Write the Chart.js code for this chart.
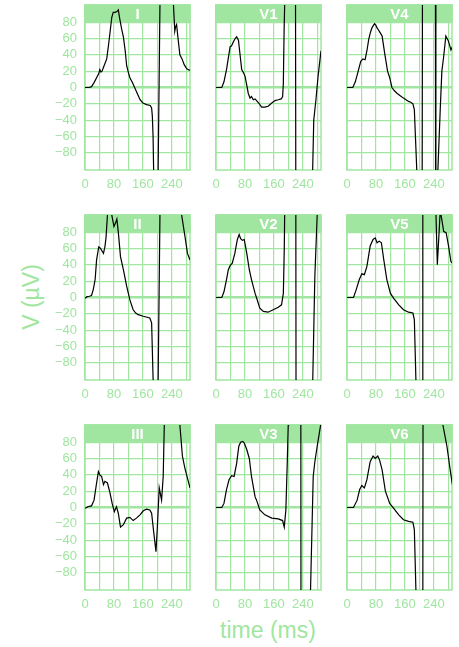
<!DOCTYPE html>
<html>
<head>
<meta charset="utf-8">
<script src="https://cdn.jsdelivr.net/npm/chart.js@4.4.1/dist/chart.umd.min.js"></script>
<style>
  html, body { margin: 0; padding: 0; background: #fff; }
  body { width: 459px; height: 647px; position: relative; overflow: hidden; font-family: "Liberation Sans", Arial, sans-serif; }
  canvas { position: absolute; }
  .axis-title { position: absolute; color: #a0e6a0; font-size: 23px; white-space: nowrap; transform: translate(-50%, -50%); }
  #ylab { transform: translate(-50%, -50%) rotate(-90deg); }
</style>
</head>
<body>
<div id="ylab" class="axis-title" style="left:31px; top:297px">V (µV)</div>
<div id="xlab" class="axis-title" style="left:268px; top:630px">time (ms)</div>
<script>
const GREEN = '#a0e6a0';

const leadNames = ['I', 'V1', 'V4', 'II', 'V2', 'V5', 'III', 'V3', 'V6'];
const xGrid = [0, 40, 80, 120, 160, 200, 240, 280];
const xLabels = [0, 80, 160, 240];
const yGrid = [-80, -60, -40, -20, 0, 20, 40, 60, 80];
const T_MAX = 290;
const V_MIN = -101, V_MAX = 101;
const STRIP_FROM = 80; // strip covers the panel above this value

// [time ms, voltage µV] per lead (off-panel parts estimated)
const leadI = [[0,0],[12,0],[18,1],[25,6],[32,12],[38,17],[41,22],[44,19],[47,20],[53,27],[60,35],[65,52],[69,67],[74,86],[78,92],[83,92],[88,93],[92,95],[96,84],[101,72],[106,62],[111,45],[115,27],[120,18],[124,12],[131,6],[138,-1],[145,-8],[152,-15],[160,-19],[170,-21],[180,-22],[184,-25],[186,-35],[188,-60],[191,-140],[196,-300],[200,-182],[210,222],[220,360],[232,300],[241,130],[248,69],[250,74],[253,77],[257,60],[262,40],[268,35],[274,28],[281,23],[290,21]];
const leadV1 = [[0,0],[16,0],[22,7],[29,22],[34,36],[39,50],[43,51],[48,56],[53,60],[57,62],[62,58],[66,42],[71,22],[76,18],[80,14],[85,3],[89,-7],[94,-13],[98,-11],[103,-15],[108,-14],[112,-16],[118,-19],[126,-24],[135,-24],[144,-23],[154,-19],[163,-16],[172,-15],[180,-14],[184,-11],[186,5],[188,67],[191,130],[200,400],[212,500],[219,300],[221,-300],[240,-500],[262,-300],[266,-120],[270,-40],[276,-15],[282,14],[290,45]];
const leadV4 = [[0,0],[16,0],[23,7],[32,22],[38,32],[44,35],[50,34],[55,45],[60,59],[65,68],[69,73],[73,76],[76,78],[80,76],[83,73],[86,71],[89,69],[93,66],[97,63],[104,42],[112,20],[118,12],[124,0],[131,-4],[138,-7],[147,-10],[156,-13],[163,-15],[170,-17],[176,-18],[182,-20],[186,-27],[189,-60],[194,-115],[200,-400],[207,-300],[209,300],[225,500],[243.5,400],[245.5,-400],[248,-135],[257.5,-27],[262,20],[267,38],[273,63],[280,57],[287,46],[291,50]];
const leadII = [[0,-1],[6,1],[12,1.5],[18,2.5],[23,10],[28,22],[32,46],[38,62],[43,60],[47,57],[51,54],[55,62],[58,73],[62,101],[66,118],[70,110],[80,87],[85,92],[88,96],[92,80],[98,50],[106,34],[115,14],[124,-3],[133,-15],[140,-19],[147,-21],[161,-23],[179,-25],[184,-31],[189,-115],[193,-300],[200,-182],[210,222],[230,400],[255,300],[262,115],[276,75],[283,54],[290,46]];
const leadV2 = [[0,0],[16,0],[22,7],[29,22],[34,34],[39,39],[45,42],[52,54],[59,71],[64,77],[68,72],[73,70],[78,71],[85,54],[92,34],[98,22],[108,5],[114,-3],[121,-13],[131,-17],[144,-18],[158,-15],[172,-12],[181,-9],[186,5],[188.5,58],[191,150],[200,450],[214,500],[220,300],[221.5,-300],[240,-500],[258,-300],[265,-150],[273,26],[279.5,101],[285,180],[290,250]];
const leadV5 = [[0,0],[18,0],[25,9],[34,22],[41,29],[48,28],[55,38],[64,63],[72,71],[78,73],[83,67],[89,69],[95,67],[101,48],[110,22],[120,5],[129,-1],[143,-9],[156,-15],[170,-18],[182,-19],[186,-27],[192,-130],[198,-400],[208,-300],[209.4,300],[225,500],[238,400],[244,130],[249.5,40],[257,102],[259,103],[262,95],[267,81],[274,79],[280.5,63],[287,44],[291,42]];
const leadIII = [[0,-1],[9,1],[18,2],[25,9],[32,30],[37,44],[41,40],[46,38],[51,28],[55,32],[62,30],[69,18],[75,5],[81,-5],[87,1],[92,-7],[98,-24],[106,-21],[115,-13],[124,-12],[133,-16],[142,-13],[152,-9],[161,-4],[170,-2],[179,-3],[184,-7],[190,-31],[196,-54],[199.5,-27],[205,24],[211.5,9],[216,38],[219,101],[221,160],[235,300],[250,250],[258,123],[269,63],[276,48],[283,36],[290,24]];
const leadV3 = [[0,0],[16,0],[22,5],[29,22],[36,34],[43,39],[50,38],[57,54],[63,75],[68,80],[74,81],[78,79],[85,71],[92,60],[98,38],[108,13],[112,9],[121,-3],[135,-9],[154,-13],[172,-14],[184,-16],[188.5,-24],[193,-3],[197,58],[199.5,101],[201,150],[215,400],[234,300],[235,-300],[250,-500],[259,-140],[268.5,38],[273,56],[279.5,75],[289,101],[291,107]];
const leadV6 = [[0,0],[18,0],[28,9],[35,22],[41,27],[48,24],[55,34],[64,56],[72,63],[78,60],[85,63],[90,58],[97,46],[106,20],[118,5],[129,-1],[143,-9],[156,-15],[170,-17],[182,-18],[186,-27],[192,-130],[199,-400],[209,-300],[210.4,300],[230,500],[250,400],[258,117],[276,75],[285,46],[291,28]];

const leadSeries = [leadI, leadV1, leadV4, leadII, leadV2, leadV5, leadIII, leadV3, leadV6];

// panel placement (plot area) in page pixels
const COL_X = [85, 216, 347];
const ROW_Y = [5, 215, 425];
const PANEL_W = 105, PANEL_H = 165;

const stripPlugin = {
    id: 'strip',
    beforeDatasetsDraw(chart, args, opts) {
        const { ctx, chartArea: a } = chart;
        const yb = chart.scales.y.getPixelForValue(STRIP_FROM);
        ctx.save();
        ctx.fillStyle = GREEN;
        ctx.fillRect(a.left - 0.75, a.top - 0.75, a.right - a.left + 1.5, yb - a.top + 0.75);
        ctx.strokeStyle = GREEN;
        ctx.lineWidth = 1.5;
        ctx.strokeRect(a.left, a.top, a.right - a.left, a.bottom - a.top);
        ctx.fillStyle = '#fff';
        ctx.font = 'bold 15px "Liberation Sans", Arial, sans-serif';
        ctx.textAlign = 'center';
        ctx.textBaseline = 'middle';
        ctx.fillText(opts.text, (a.left + a.right) / 2, (a.top + yb) / 2 + 1);
        ctx.restore();
    }
};

function minusSign(v) {
    return v < 0 ? '\u2212' + Math.abs(v) : String(v);
}

leadNames.forEach((name, i) => {
    const col = i % 3, row = Math.floor(i / 3);
    const ml = col === 0 ? 50 : 16, mt = 20, mr = 6, mb = 28;

    const cv = document.createElement('canvas');
    cv.width = ml + PANEL_W + mr;
    cv.height = mt + PANEL_H + mb;
    cv.style.left = (COL_X[col] - ml) + 'px';
    cv.style.top = (ROW_Y[row] - mt) + 'px';
    cv.style.width = cv.width + 'px';
    cv.style.height = cv.height + 'px';
    document.body.appendChild(cv);

    new Chart(cv, {
        type: 'line',
        data: {
            datasets: [{
                data: leadSeries[i].map(p => ({ x: p[0], y: p[1] })),
                borderColor: '#000',
                borderWidth: 1.2,
                pointRadius: 0,
                tension: 0,
                fill: false,
                clip: 0
            }]
        },
        plugins: [stripPlugin],
        options: {
            responsive: false,
            devicePixelRatio: 1,
            animation: false,
            events: [],
            layout: { padding: { left: 0, top: mt, right: mr, bottom: 0 } },
            scales: {
                x: {
                    type: 'linear',
                    min: 0,
                    max: T_MAX,
                    bounds: 'data',
                    afterBuildTicks: s => { s.ticks = xGrid.map(v => ({ value: v })); },
                    afterFit: s => { s.height = mb; },
                    grid: { color: GREEN, lineWidth: 1.2, drawTicks: false },
                    border: { display: false },
                    ticks: {
                        autoSkip: false,
                        maxRotation: 0,
                        minRotation: 0,
                        padding: 7,
                        color: GREEN,
                        font: { family: '"Liberation Sans", Arial, sans-serif', size: 13 },
                        callback: v => xLabels.includes(v) ? String(v) : ''
                    }
                },
                y: {
                    min: V_MIN,
                    max: V_MAX,
                    bounds: 'data',
                    afterBuildTicks: s => { s.ticks = yGrid.map(v => ({ value: v })); },
                    afterFit: s => { s.width = ml; },
                    grid: {
                        color: GREEN,
                        lineWidth: c => (c.tick && c.tick.value === 0) ? 2.4 : 1.2,
                        drawTicks: false
                    },
                    border: { display: false },
                    ticks: {
                        display: col === 0,
                        autoSkip: false,
                        padding: 8,
                        color: GREEN,
                        font: { family: '"Liberation Sans", Arial, sans-serif', size: 13 },
                        callback: v => minusSign(v)
                    }
                }
            },
            plugins: {
                legend: { display: false },
                tooltip: { enabled: false },
                strip: { text: name }
            }
        }
    });
});
</script>
</body>
</html>
